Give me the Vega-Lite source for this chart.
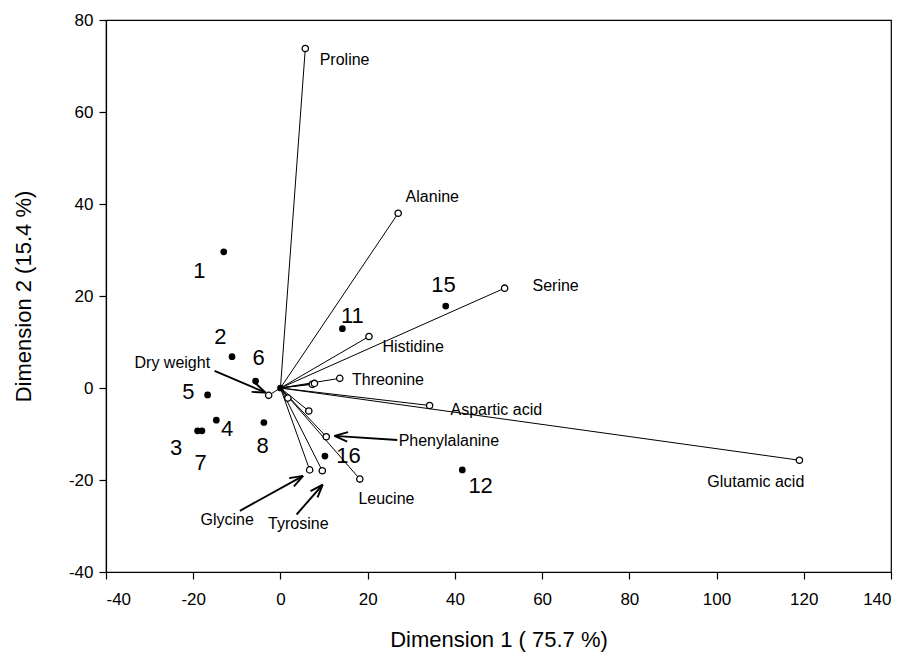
{
  "$schema": "https://vega.github.io/schema/vega-lite/v6.json",
  "autosize": {"type": "none"},
  "width": 785,
  "height": 552,
  "padding": {"left": 106, "top": 20, "right": 22, "bottom": 90},
  "background": "white",
  "config": {
    "font": "Liberation Sans",
    "view": {"stroke": "black", "strokeWidth": 1.2},
    "axis": {
      "grid": false,
      "domainColor": "black",
      "tickColor": "black",
      "labelColor": "black",
      "titleColor": "black",
      "labelFont": "Liberation Sans",
      "titleFont": "Liberation Sans",
      "labelFontSize": 17,
      "titleFontSize": 22,
      "titleFontWeight": "normal",
      "tickSize": 7,
      "domainWidth": 1.2,
      "tickWidth": 1.2,
      "labelExpr": "'' + datum.value"
    }
  },
  "datasets": {
    "samples": [
      {"id": "1", "d1": -13.0, "d2": 29.6, "lx": -18.6, "ly": 25.4},
      {"id": "2", "d1": -11.1, "d2": 6.8, "lx": -13.8, "ly": 11.1},
      {"id": "3", "d1": -19.0, "d2": -9.3, "lx": -23.9, "ly": -13.0},
      {"id": "4", "d1": -14.7, "d2": -7.0, "lx": -12.2, "ly": -8.9},
      {"id": "5", "d1": -16.7, "d2": -1.5, "lx": -21.1, "ly": -0.9},
      {"id": "6", "d1": -5.7, "d2": 1.5, "lx": -5.0, "ly": 6.5},
      {"id": "7", "d1": -18.0, "d2": -9.3, "lx": -18.3, "ly": -16.3},
      {"id": "8", "d1": -3.8, "d2": -7.5, "lx": -4.1, "ly": -12.6},
      {"id": "11", "d1": 14.2, "d2": 12.9, "lx": 16.5, "ly": 15.7},
      {"id": "12", "d1": 41.7, "d2": -17.8, "lx": 45.9, "ly": -21.3},
      {"id": "15", "d1": 37.9, "d2": 17.8, "lx": 37.4, "ly": 22.4},
      {"id": "16", "d1": 10.2, "d2": -14.8, "lx": 15.6, "ly": -14.8}
    ],
    "vectors": [
      {"name": "Proline", "ox": 0, "oy": 0, "vx": 5.7, "vy": 73.8},
      {"name": "Alanine", "ox": 0, "oy": 0, "vx": 27.0, "vy": 38.0},
      {"name": "Serine", "ox": 0, "oy": 0, "vx": 51.4, "vy": 21.7},
      {"name": "Histidine", "ox": 0, "oy": 0, "vx": 20.3, "vy": 11.2},
      {"name": "Threonine", "ox": 0, "oy": 0, "vx": 13.6, "vy": 2.1},
      {"name": "v1", "ox": 0, "oy": 0, "vx": 7.3, "vy": 0.8},
      {"name": "v2", "ox": 0, "oy": 0, "vx": 7.8, "vy": 1.0},
      {"name": "Aspartic acid", "ox": 0, "oy": 0, "vx": 34.2, "vy": -3.8},
      {"name": "Glutamic acid", "ox": 0, "oy": 0, "vx": 119.0, "vy": -15.7},
      {"name": "Dry weight", "ox": 0, "oy": 0, "vx": -2.7, "vy": -1.6},
      {"name": "v3", "ox": 0, "oy": 0, "vx": 6.5, "vy": -5.0},
      {"name": "v4", "ox": 0, "oy": 0, "vx": 1.7, "vy": -2.2},
      {"name": "Phenylalanine", "ox": 0, "oy": 0, "vx": 10.5, "vy": -10.6},
      {"name": "Leucine", "ox": 0, "oy": 0, "vx": 18.2, "vy": -19.8},
      {"name": "Glycine", "ox": 0, "oy": 0, "vx": 6.7, "vy": -17.8},
      {"name": "Tyrosine", "ox": 0, "oy": 0, "vx": 9.6, "vy": -18.0}
    ],
    "vlabels": [
      {"text": "Proline", "lx": 9.0, "ly": 71.4, "anchor": "left"},
      {"text": "Alanine", "lx": 28.7, "ly": 41.5, "anchor": "left"},
      {"text": "Serine", "lx": 57.8, "ly": 22.2, "anchor": "left"},
      {"text": "Histidine", "lx": 23.4, "ly": 8.9, "anchor": "left"},
      {"text": "Threonine", "lx": 16.4, "ly": 1.7, "anchor": "left"},
      {"text": "Aspartic acid", "lx": 39.0, "ly": -4.8, "anchor": "left"},
      {"text": "Phenylalanine", "lx": 27.1, "ly": -11.5, "anchor": "left"},
      {"text": "Glutamic acid", "lx": 109.0, "ly": -20.4, "anchor": "center"},
      {"text": "Leucine", "lx": 24.3, "ly": -24.1, "anchor": "center"},
      {"text": "Glycine", "lx": -12.2, "ly": -28.8, "anchor": "center"},
      {"text": "Tyrosine", "lx": 4.1, "ly": -29.6, "anchor": "center"},
      {"text": "Dry weight", "lx": -24.8, "ly": 5.5, "anchor": "center"}
    ],
    "arrows": [
      {"a": "Dry weight", "x1": -15.1, "y1": 3.7, "x2": -3.4, "y2": -1.0},
      {"a": "Dry weight", "x1": -5.8, "y1": 1.1, "x2": -3.4, "y2": -1.0},
      {"a": "Dry weight", "x1": -6.6, "y1": -0.85, "x2": -3.4, "y2": -1.0},
      {"a": "Phenylalanine", "x1": 26.8, "y1": -11.3, "x2": 12.4, "y2": -10.4},
      {"a": "Phenylalanine", "x1": 15.3, "y1": -11.65, "x2": 12.4, "y2": -10.4},
      {"a": "Phenylalanine", "x1": 15.5, "y1": -9.6, "x2": 12.4, "y2": -10.4},
      {"a": "Glycine", "x1": -9.3, "y1": -26.7, "x2": 5.2, "y2": -19.1},
      {"a": "Glycine", "x1": 2.0, "y1": -19.6, "x2": 5.2, "y2": -19.1},
      {"a": "Glycine", "x1": 3.1, "y1": -21.4, "x2": 5.2, "y2": -19.1},
      {"a": "Tyrosine", "x1": 3.7, "y1": -27.5, "x2": 9.7, "y2": -21.0},
      {"a": "Tyrosine", "x1": 6.9, "y1": -22.4, "x2": 9.7, "y2": -21.0},
      {"a": "Tyrosine", "x1": 8.5, "y1": -23.8, "x2": 9.7, "y2": -21.0}
    ]
  },
  "layer": [
    {
      "data": {"name": "samples"},
      "mark": {"type": "point", "shape": "circle", "filled": true, "color": "black", "size": 45, "opacity": 1},
      "encoding": {
        "x": {"field": "d1", "type": "quantitative", "scale": {"domain": [-40, 140], "nice": false, "zero": false},
              "axis": {"values": [-40, -20, 0, 20, 40, 60, 80, 100, 120, 140], "title": "Dimension 1 ( 75.7 %)", "labelPadding": 12, "titlePadding": 22}},
        "y": {"field": "d2", "type": "quantitative", "scale": {"domain": [-40, 80], "nice": false, "zero": false},
              "axis": {"values": [-40, -20, 0, 20, 40, 60, 80], "title": "Dimension 2 (15.4 %)", "labelPadding": 6, "titlePadding": 33}}
      }
    },
    {
      "data": {"name": "vectors"},
      "mark": {"type": "rule", "color": "black", "strokeWidth": 1},
      "encoding": {
        "x": {"field": "ox", "type": "quantitative"},
        "y": {"field": "oy", "type": "quantitative"},
        "x2": {"field": "vx"},
        "y2": {"field": "vy"}
      }
    },
    {
      "data": {"name": "arrows"},
      "mark": {"type": "rule", "color": "black", "strokeWidth": 1.9},
      "encoding": {
        "x": {"field": "x1", "type": "quantitative"},
        "y": {"field": "y1", "type": "quantitative"},
        "x2": {"field": "x2"},
        "y2": {"field": "y2"}
      }
    },
    {
      "data": {"name": "vectors"},
      "mark": {"type": "point", "shape": "circle", "filled": false, "fill": "white", "fillOpacity": 1, "stroke": "black", "strokeWidth": 1.3, "size": 40, "opacity": 1},
      "encoding": {
        "x": {"field": "vx", "type": "quantitative"},
        "y": {"field": "vy", "type": "quantitative"}
      }
    },
    {
      "data": {"name": "vectors"},
      "transform": [{"filter": "datum.name === 'Proline'"}],
      "mark": {"type": "point", "shape": "circle", "filled": true, "color": "black", "size": 45, "opacity": 1},
      "encoding": {
        "x": {"field": "ox", "type": "quantitative"},
        "y": {"field": "oy", "type": "quantitative"}
      }
    },
    {
      "data": {"name": "samples"},
      "mark": {"type": "text", "font": "Liberation Sans", "fontSize": 22, "color": "black", "align": "center", "baseline": "middle"},
      "encoding": {
        "x": {"field": "lx", "type": "quantitative"},
        "y": {"field": "ly", "type": "quantitative"},
        "text": {"field": "id"}
      }
    },
    {
      "data": {"name": "vlabels"},
      "transform": [{"filter": "datum.anchor === 'left'"}],
      "mark": {"type": "text", "font": "Liberation Sans", "fontSize": 16, "color": "black", "align": "left", "baseline": "middle"},
      "encoding": {
        "x": {"field": "lx", "type": "quantitative"},
        "y": {"field": "ly", "type": "quantitative"},
        "text": {"field": "text"}
      }
    },
    {
      "data": {"name": "vlabels"},
      "transform": [{"filter": "datum.anchor === 'center'"}],
      "mark": {"type": "text", "font": "Liberation Sans", "fontSize": 16, "color": "black", "align": "center", "baseline": "middle"},
      "encoding": {
        "x": {"field": "lx", "type": "quantitative"},
        "y": {"field": "ly", "type": "quantitative"},
        "text": {"field": "text"}
      }
    }
  ]
}
